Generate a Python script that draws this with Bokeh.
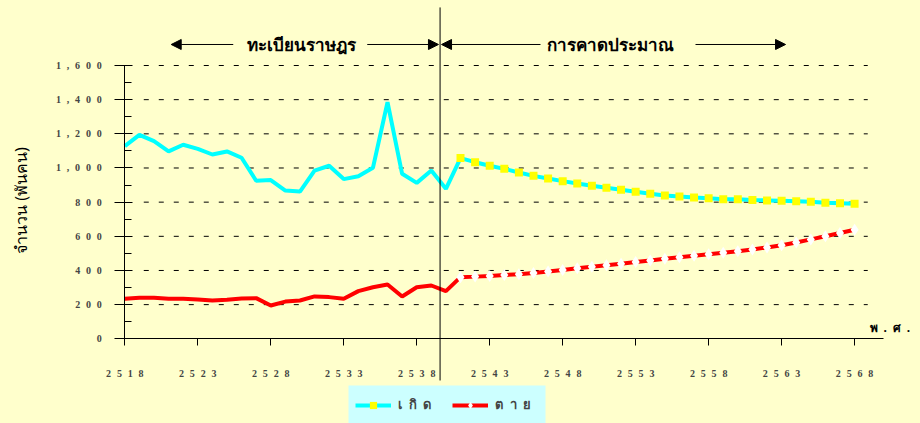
import math
from bokeh.plotting import figure
from bokeh.models import (FixedTicker, Label, Arrow, NormalHead, Legend, LegendItem, BoxAnnotation)
from bokeh.embed import file_html
from bokeh.resources import INLINE

# ---------------- data ----------------
years_hist = list(range(2518, 2541))
births_hist = [1128, 1194, 1157, 1097, 1136, 1112, 1079, 1097, 1060, 925, 929, 868,
               862, 985, 1013, 935, 952, 1001, 1385, 966, 913, 985, 878]
deaths_hist = [234, 240, 240, 234, 234, 230, 224, 228, 236, 238, 195, 218,
               224, 248, 244, 234, 279, 302, 318, 248, 302, 312, 279]
years_proj = list(range(2541, 2569))
births_proj = [1058, 1034, 1013, 995, 974, 954, 939, 923, 909, 896, 884, 872, 861, 849,
               839, 833, 827, 823, 817, 817, 812, 810, 808, 806, 802, 796, 794, 790]
deaths_proj = [361, 364, 368, 373, 378, 385, 394, 403, 413, 422, 431, 440, 449, 459,
               468, 477, 486, 495, 504, 513, 523, 535, 548, 564, 582, 600, 619, 638]
x_ticks = list(range(2518, 2569, 5))
y_ticks = list(range(0, 1601, 200))
y_minor = list(range(100, 1600, 200))
label_birth = "เกิด"
label_death = "ตาย"
y_title = "จำนวน (พันคน)"
x_title = "พ.ศ."
left_note = "ทะเบียนราษฎร"
right_note = "การคาดประมาณ"
divider_year = 2539.6

BG = "#FFFFCC"
SEP = "\u2002\u200a"


def spaced(s, sep=SEP):
    return sep.join(list(s))


years_all = years_hist + years_proj
births_all = births_hist + births_proj
deaths_all = deaths_hist + deaths_proj

W, H = 920, 423
p = figure(width=W, height=H, output_backend="svg", toolbar_location=None,
           x_range=(2509.484, 2572.515), y_range=(-495.9, 1980.6),
           background_fill_color=BG, border_fill_color=BG, min_border=0)
p.outline_line_color = None
p.xgrid.visible = False
p.ygrid.visible = False

# dashed horizontal guide lines
grid_vals = y_ticks[1:]
p.segment(x0=[2519.3] * len(grid_vals), x1=[2568.9] * len(grid_vals), y0=grid_vals, y1=grid_vals,
          line_color="black", line_width=1, line_dash="5 10")

tick_font = "Liberation Serif"
# x axis
xa = p.xaxis[0]
xa.fixed_location = 0
xa.bounds = (2517.36, 2570.0)
xa.ticker = FixedTicker(ticks=x_ticks)
xa.major_label_overrides = {t: spaced(str(t)) for t in x_ticks}
xa.major_tick_out = 7
xa.major_tick_in = 0
xa.minor_tick_out = 0
xa.minor_tick_in = 0
xa.major_label_standoff = 22
xa.major_label_text_font = tick_font
xa.major_label_text_font_style = "bold"
xa.major_label_text_font_size = "10px"
xa.axis_line_color = "black"
xa.major_tick_line_color = "black"

# y axis
ya = p.yaxis[0]
ya.fixed_location = 2518
ya.ticker = FixedTicker(ticks=y_ticks, minor_ticks=y_minor)
ya.bounds = (0, 1600)
ya.major_label_overrides = {t: spaced(f"{t:,}") for t in y_ticks}
ya.major_tick_out = 10
ya.major_tick_in = 8
ya.minor_tick_out = 0
ya.minor_tick_in = 7
ya.major_label_standoff = 13
ya.major_label_text_font = tick_font
ya.major_label_text_font_style = "bold"
ya.major_label_text_font_size = "10px"
ya.axis_line_color = "black"
ya.major_tick_line_color = "black"
ya.minor_tick_line_color = "black"

# series
birth_line = p.line(years_all, births_all, line_color="#00FFFF", line_width=4)
birth_marks = p.scatter(years_proj, births_proj, marker="square", size=8,
                        fill_color="#FFFF00", line_color=None)
death_line = p.line(years_all, deaths_all, line_color="#FF0000", line_width=4)
death_marks = p.scatter(years_proj, deaths_proj, marker="diamond", size=12,
                        fill_color="white", line_color=None)

# divider line and arrows
y_arrow = 1723
p.add_layout(Arrow(x_start=divider_year, x_end=divider_year, y_start=-244, y_end=1940,
                   start=None, end=None, line_color="black", line_width=1))
for tail, tip in [(2525.43, 2521.18), (2534.61, 2539.49), (2546.48, 2539.70), (2557.10, 2563.27)]:
    p.add_layout(Arrow(x_start=tail, x_end=tip, y_start=y_arrow, y_end=y_arrow,
                       end=NormalHead(size=10, fill_color="black", line_color="black"),
                       line_color="black", line_width=1))
for xx, txt in [(2530.14, left_note), (2551.31, right_note)]:
    p.add_layout(Label(x=xx, y=y_arrow, text=txt, text_align="center", text_baseline="middle",
                       text_font="Noto Sans", text_font_style="bold", text_font_size="17px",
                       text_color="black"))

# axis titles
p.add_layout(Label(x=20, y=H - 200, x_units="screen", y_units="screen", text=y_title,
                   angle=math.pi / 2, text_align="center", text_baseline="middle",
                   text_font="Noto Sans", text_font_size="16px", text_color="black"))
p.add_layout(Label(x=869, y=H - 327, x_units="screen", y_units="screen",
                   text=spaced(x_title, "\u2002"), text_align="left", text_baseline="middle",
                   text_font="Noto Sans", text_font_style="bold", text_font_size="12px",
                   text_color="black"))

# legend background box and legend
p.add_layout(BoxAnnotation(left=348, right=545, bottom=-5, top=H - 385,
                           left_units="screen", right_units="screen",
                           bottom_units="screen", top_units="screen",
                           fill_color="#CCFFFF", fill_alpha=1, line_color=None))
legend = Legend(items=[LegendItem(label="เ\u2002กิ\u2002ด", renderers=[birth_line, birth_marks]),
                       LegendItem(label="ต\u2002า\u2002ย", renderers=[death_line, death_marks])],
                orientation="horizontal", location=(355, 8),
                background_fill_alpha=0, border_line_color=None,
                glyph_width=36, glyph_height=18,
                label_standoff=7, label_width=40, spacing=14, padding=10, margin=0,
                label_text_font="Noto Sans", label_text_font_style="bold",
                label_text_font_size="13px")
p.add_layout(legend, "center")

html = file_html(p, INLINE)
html = html.replace("</head>", "<style>html,body{background:#FFFFCC;}</style></head>", 1)
open("out.html", "w").write(html)
